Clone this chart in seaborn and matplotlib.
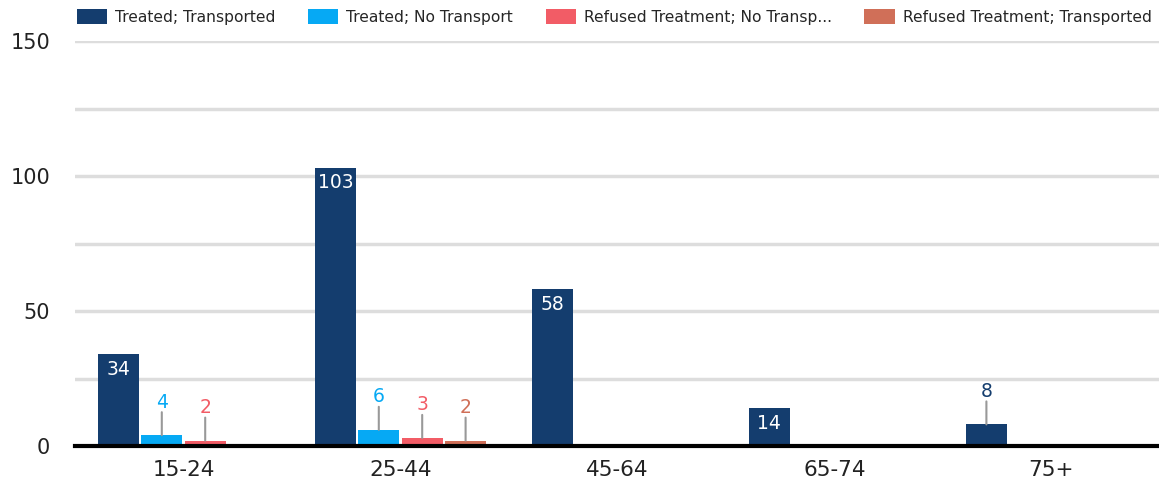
import matplotlib
matplotlib.use("Agg")
import matplotlib.pyplot as plt
import seaborn as sns
import pandas as pd

categories = ["15-24", "25-44", "45-64", "65-74", "75+"]
series_names = ["Treated; Transported", "Treated; No Transport",
                "Refused Treatment; No Transp...", "Refused Treatment; Transported"]
treated_transported = [34, 103, 58, 14, 8]
treated_no_transport = [4, 6, 0, 0, 0]
refused_no_transport = [2, 3, 0, 0, 0]
refused_transported = [0, 2, 0, 0, 0]
colors = ["#143d6e", "#06a9f4", "#f25c66", "#d06f58"]

values = [treated_transported, treated_no_transport, refused_no_transport, refused_transported]
rows = []
for name, vals in zip(series_names, values):
    for cat, v in zip(categories, vals):
        rows.append({"Age": cat, "Series": name, "Count": v})
df = pd.DataFrame(rows)

sns.set_theme(style="white")
plt.rcParams['font.family'] = ['DejaVu Sans']

fig = plt.figure(figsize=(11.59, 4.87), dpi=100)
ax = fig.add_axes([75/1159, 41/487, 1085/1159, 405/487])

sns.barplot(data=df, x="Age", y="Count", hue="Series", order=categories,
            hue_order=series_names, palette=colors, width=0.8, gap=0.05,
            saturation=1, ax=ax, legend=True, edgecolor="none")

ax.set_xlim(-0.5, 4.5)
ax.set_ylim(0, 150)
ax.set_yticks([0, 50, 100, 150])
ax.set_yticks([25, 75, 125], minor=True)
ax.grid(axis="y", which="both", color="#dddddd", linewidth=2.5)
ax.set_axisbelow(True)
for s in ["top", "right", "left"]:
    ax.spines[s].set_visible(False)
ax.spines["bottom"].set_color("#000000")
ax.spines["bottom"].set_linewidth(3)
ax.spines["bottom"].set_zorder(5)
ax.tick_params(axis="both", which="both", length=0)
ax.tick_params(axis="y", labelsize=15, labelcolor="#222222", pad=18)
ax.tick_params(axis="x", labelsize=15.5, labelcolor="#222222", pad=10)
ax.set_xlabel("")
ax.set_ylabel("")

px = 0.72  # pixels -> points
for container, col, vals in zip(ax.containers, colors, values):
    for bar, v in zip(container.patches, vals):
        if v == 0:
            continue
        x = bar.get_x() + bar.get_width() / 2
        top = bar.get_height()
        if v >= 10:
            ax.annotate(str(v), xy=(x, top), xytext=(0, -15 * px), textcoords="offset points",
                        ha="center", va="center", color="white", fontsize=13.5)
        else:
            ax.annotate("", xy=(x, top), xytext=(0, 23 * px), textcoords="offset points",
                        arrowprops=dict(arrowstyle="-", color="#999999", lw=1.5,
                                        shrinkA=0, shrinkB=0))
            ax.annotate(str(v), xy=(x, top), xytext=(0, 33 * px), textcoords="offset points",
                        ha="center", va="center", color=col, fontsize=13.5)

handles, labels = ax.get_legend_handles_labels()
ax.get_legend().remove()
fig.legend(handles, labels, loc="upper left", bbox_to_anchor=(77/1159, 1 - 9/487), ncol=4,
           frameon=False, fontsize=11.2, handlelength=1.95, handleheight=1.08,
           handletextpad=0.5, columnspacing=2.1, borderaxespad=0, borderpad=0)

fig.savefig("out.png", dpi=100)
